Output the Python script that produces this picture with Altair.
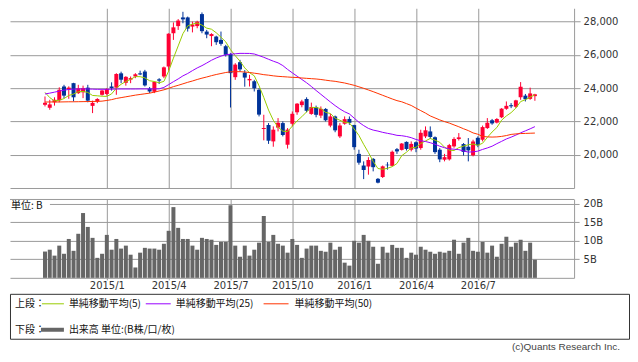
import altair as alt
import pandas as pd

# ---------------- data (weekly) ----------------
weeks = [d.strftime("%Y-%m-%d") for d in pd.date_range("2014-10-06", periods=104, freq="7D")]

opens = [23000, 22820, 23150, 23270, 24100, 23930, 24300, 23700, 23750, 24030,
         22935, 23200, 23600, 23650, 24100, 24030, 24890, 24320, 24510, 24700,
         24890, 25000, 23970, 23780, 24530, 24700, 25300, 27300, 27730, 28250,
         28250, 27700, 27730, 28450, 27400, 27130, 27100, 26900, 26520, 26050,
         24660, 25560, 24930, 24470, 24415, 23900, 21550, 21785, 20800, 21630,
         21900, 20600, 21860, 22550, 22980, 23350, 22450, 22850, 22350, 22750,
         21750, 22300, 21100, 21860, 22150, 21780, 20050, 19350, 19290, 19750,
         18550, 18660, 19400, 19330, 20330, 20290, 20770, 20300, 20750, 20400,
         21100, 21400, 21050, 20300, 19700, 19720, 20500, 20940, 20640, 20480,
         19960, 21015, 20900, 21600, 22070, 21930, 22250, 22760, 22975, 22880,
         23454, 23550, 23356, 23520]
highs = [23500, 23300, 23450, 24050, 24200, 24110, 24320, 24200, 24150, 24200,
         23250, 23400, 23900, 24000, 24350, 24900, 24990, 24720, 24700, 24900,
         25050, 25100, 24070, 24400, 24600, 25300, 27300, 27950, 28150, 28588,
         28300, 28000, 28050, 28550, 27500, 27300, 27150, 27400, 26600, 26100,
         25500, 25700, 25085, 24800, 24500, 24000, 22400, 21900, 21700, 22200,
         22000, 21600, 22600, 23100, 23300, 23450, 23130, 22950, 22900, 22800,
         22450, 22350, 21900, 22300, 22300, 21800, 20300, 19600, 19850, 19800,
         18600, 19350, 19550, 20250, 20400, 20700, 20800, 20800, 20800, 21500,
         21700, 21700, 21100, 20400, 20050, 20650, 21050, 21300, 20700, 21000,
         20900, 21100, 21750, 22200, 22150, 22200, 22800, 23200, 23100, 23300,
         24364, 23650, 24030, 23660]
lows = [22900, 22700, 22950, 23150, 23400, 23360, 23200, 23650, 23400, 23150,
        22500, 23100, 23550, 23550, 23850, 23600, 24300, 24150, 24300, 24600,
        24780, 24100, 23700, 23700, 24250, 24600, 25050, 26900, 27500, 27900,
        27400, 27350, 27600, 27300, 27000, 26520, 26600, 26550, 25900, 22836,
        24500, 25000, 24087, 24100, 23800, 22300, 20865, 20650, 20480, 21400,
        21100, 20368, 21700, 22400, 22850, 22550, 22400, 22250, 22200, 22000,
        21650, 21350, 21000, 21800, 21800, 20300, 19400, 18534, 18800, 19000,
        18278, 18600, 19100, 19300, 20050, 20250, 20250, 20200, 20150, 20300,
        21000, 20950, 20050, 19550, 19600, 19650, 20420, 20850, 19950, 19600,
        19900, 20450, 20800, 21550, 21800, 21880, 22200, 22700, 22800, 22800,
        23300, 23200, 23300, 23240]
closes = [23120, 23023, 23302, 23900, 23550, 24030, 23450, 23988, 24000, 23249,
          23116, 23349, 23857, 23950, 24000, 24850, 24507, 24679, 24604, 24832,
          24823, 24164, 23800, 24375, 24450, 25250, 27272, 27653, 28061, 28133,
          27577, 27822, 27993, 27424, 27220, 27250, 26760, 26663, 26000, 24901,
          25415, 25128, 24636, 24552, 23991, 22410, 21612, 20841, 21504, 21920,
          21186, 21507, 22459, 23067, 23200, 22640, 22867, 22397, 22755, 22068,
          22300, 21464, 21756, 22138, 21914, 20454, 19521, 19081, 19683, 19250,
          18320, 19300, 19364, 20176, 20199, 20671, 20345, 20650, 20370, 21316,
          21467, 21067, 20156, 19719, 19852, 20577, 20947, 21042, 20169, 20259,
          20794, 20564, 21660, 21920, 21880, 22146, 22767, 22937, 22910, 23266,
          24087, 23335, 23683, 23630]
volume_b = [7.1, 7.6, 6.0, 8.7, 6.5, 10.5, 7.3, 11.9, 17.5, 13.75,
            10.8, 5.4, 6.5, 11.6, 7.6, 10.5, 7.9, 8.7, 6.25, 2.8,
            6.8, 8.1, 7.9, 7.9, 7.6, 9.2, 12.7, 19.1, 13.5, 10.5,
            10.5, 8.7, 7.6, 10.8, 10.5, 10.3, 8.9, 9.7, 9.7, 19.6,
            8.7, 5.7, 8.7, 6.0, 7.6, 9.5, 16.7, 9.7, 11.6, 9.2,
            8.7, 6.8, 10.5, 8.9, 5.4, 7.9, 8.7, 8.7, 7.3, 7.05,
            9.5, 7.6, 8.4, 4.1, 3.3, 10.0, 9.5, 11.6, 10.0, 8.4,
            3.8, 8.4, 6.8, 8.9, 8.1, 8.1, 5.4, 6.8, 6.25, 8.4,
            7.6, 7.05, 6.5, 7.05, 6.8, 7.3, 10.3, 6.5, 9.5, 10.8,
            7.3, 7.05, 9.7, 6.8, 8.7, 5.7, 9.2, 11.1, 8.4, 9.5,
            10.3, 7.3, 9.5, 4.9]
ma5 = [23746, 23432, 23231, 23275, 23373, 23561, 23646, 23784, 23804, 23743,
       23561, 23540, 23514, 23504, 23654, 24001, 24233, 24397, 24528, 24694,
       24689, 24620, 24445, 24399, 24322, 24408, 25029, 25800, 26537, 27274,
       27739, 27849, 27917, 27790, 27607, 27542, 27329, 27063, 26779, 26315,
       25948, 25621, 25216, 24926, 24744, 24143, 23440, 22681, 22072, 21657,
       21413, 21392, 21715, 22028, 22284, 22575, 22847, 22834, 22772, 22545,
       22477, 22197, 22069, 21945, 21914, 21545, 21157, 20622, 20131, 19598,
       19171, 19127, 19183, 19282, 19472, 19942, 20151, 20408, 20447, 20670,
       20830, 20974, 20875, 20745, 20452, 20274, 20250, 20427, 20517, 20599,
       20642, 20566, 20689, 21039, 21364, 21634, 22075, 22330, 22528, 22805,
       23193, 23307, 23456, 23600]
ma25 = [23650, 23700, 23760, 23820, 23880, 23920, 23940, 23950, 23950, 23950,
        23940, 23930, 23930, 23930, 23940, 23950, 23950, 23950, 23950, 23950,
        23955, 23955, 23950, 23955, 23959, 24044, 24214, 24388, 24554, 24738,
        24880, 25054, 25215, 25352, 25510, 25676, 25812, 25924, 26006, 26043,
        26065, 26090, 26088, 26086, 26053, 25956, 25854, 25736, 25621, 25520,
        25357, 25126, 24919, 24719, 24522, 24324, 24100, 23860, 23630, 23400,
        23170, 22950, 22750, 22580, 22450, 22200, 21950, 21750, 21580, 21480,
        21420, 21344, 21285, 21231, 21163, 21142, 21096, 21023, 20915, 20840,
        20793, 20721, 20631, 20510, 20421, 20352, 20332, 20303, 20224, 20158,
        20172, 20214, 20317, 20406, 20511, 20664, 20803, 20946, 21055, 21178,
        21315, 21434, 21556, 21686]
ma50 = [23165, 23170, 23170, 23170, 23175, 23180, 23180, 23185, 23190, 23195,
        23200, 23205, 23220, 23260, 23310, 23380, 23430, 23480, 23530, 23580,
        23620, 23660, 23700, 23760, 23830, 23900, 23990, 24090, 24170, 24260,
        24350, 24430, 24520, 24600, 24670, 24750, 24820, 24880, 24940, 24980,
        24990, 24990, 24970, 24940, 24900, 24860, 24810, 24780, 24740, 24710,
        24690, 24670, 24650, 24640, 24610, 24590, 24570, 24550, 24520, 24480,
        24440, 24410, 24360, 24310, 24240, 24170, 24080, 23990, 23890, 23790,
        23680, 23570, 23460, 23350, 23250, 23180, 23070, 22960, 22800, 22650,
        22500, 22330, 22210, 22090, 21990, 21900, 21790, 21680, 21560, 21450,
        21310, 21230, 21100, 21070, 21060, 21070, 21100, 21150, 21220, 21250,
        21270, 21280, 21290, 21300]

quarter_ticks = [(2015, 1, 5), (2015, 4, 6), (2015, 7, 6), (2015, 10, 5),
                 (2016, 1, 4), (2016, 4, 4), (2016, 7, 4)]
price_ticks = [20000, 22000, 24000, 26000, 28000]
volume_ticks = [5, 10, 15, 20]
ma_names = ["MA5", "MA25", "MA50"]
legend_upper = ["単純移動平均(5)", "単純移動平均(25)", "単純移動平均(50)"]
legend_lower = "出来高 単位:(B株/口/枚)"
unit_label = "単位: B"
copyright_text = "(c)Quants Research Inc."

# ---------------- styles ----------------
RED = "#ff0033"
BLUE = "#003399"
GREEN = "#99cc00"
PURPLE = "#9900ff"
ORANGE = "#ff3300"
VOL = "#666666"
GRID = "#9a9a9a"
CJK = "Noto Sans CJK JP"
W = 565

candles = pd.DataFrame({"date": weeks, "open": opens, "high": highs, "low": lows,
                        "close": closes, "volume": volume_b})
candles["dir"] = ["up" if c > o else "down" for o, c in zip(opens, closes)]
ma = pd.DataFrame({"date": weeks * 3, "value": ma5 + ma25 + ma50,
                   "series": [ma_names[0]] * 104 + [ma_names[1]] * 104 + [ma_names[2]] * 104})

xscale = alt.Scale(type="utc", domain=[
    alt.DateTime(year=2014, month=8, date=22, hours=20, utc=True),
    alt.DateTime(year=2016, month=11, date=15, hours=8, utc=True)])
tick_vals = [alt.DateTime(year=y, month=m, date=d, utc=True) for y, m, d in quarter_ticks]

x_price_axis = alt.Axis(values=tick_vals, labels=False, ticks=False, domain=True,
                        domainColor=GRID, grid=True, gridColor=GRID, title=None)
yscale = alt.Scale(domain=[18000, 28800], nice=False, zero=False)
y_price_axis = alt.Axis(orient="right", values=price_ticks, format=",d", grid=True,
                        gridColor=GRID, domainColor=GRID, tickColor=GRID, tickSize=6,
                        labelPadding=3, title=None)
dir_color = alt.Color("dir:N", scale=alt.Scale(domain=["up", "down"], range=[RED, BLUE]), legend=None)

wick = alt.Chart(candles).mark_rule(strokeWidth=1).encode(
    x=alt.X("date:T", scale=xscale, axis=x_price_axis),
    y=alt.Y("low:Q", scale=yscale, axis=y_price_axis),
    y2="high:Q",
    color=dir_color)
body = alt.Chart(candles).mark_bar(size=4).encode(
    x=alt.X("date:T", scale=xscale, axis=x_price_axis),
    y=alt.Y("open:Q", scale=yscale, axis=y_price_axis),
    y2="close:Q",
    color=dir_color)
lines = alt.Chart(ma).mark_line(strokeWidth=1).encode(
    x=alt.X("date:T", scale=xscale, axis=x_price_axis),
    y=alt.Y("value:Q", scale=yscale, axis=y_price_axis),
    color=alt.Color("series:N", scale=alt.Scale(domain=ma_names, range=[GREEN, PURPLE, ORANGE]), legend=None))

price = alt.layer(wick, body, lines).resolve_scale(color="independent").properties(width=W, height=180)

vol_x_axis = alt.Axis(values=tick_vals, labelExpr="utcFormat(datum.value, '%Y/%-m')",
                      grid=True, gridColor=GRID, domainColor=GRID, tickColor=GRID,
                      tickSize=2, labelPadding=1, labelFlush=False, title=None)
vol_y_axis = alt.Axis(orient="right", values=volume_ticks, labelExpr="datum.value + 'B'",
                      grid=True, gridColor=GRID, domainColor=GRID, tickColor=GRID,
                      tickSize=5, labelPadding=4, title=None)
vol_bars = alt.Chart(candles).mark_bar(size=4, color=VOL).encode(
    x=alt.X("date:T", scale=xscale, axis=vol_x_axis),
    y=alt.Y("volume:Q", scale=alt.Scale(domain=[0, 21.3], nice=False), axis=vol_y_axis))
top_rule = alt.Chart().mark_rule(color=GRID, strokeWidth=1).encode(
    x=alt.value(0), x2=alt.value(W), y=alt.value(0.5))
unit_bg = alt.Chart().mark_rect(color="white").encode(
    x=alt.value(0), x2=alt.value(40), y=alt.value(1.5), y2=alt.value(12))
unit_txt = alt.Chart().mark_text(text=unit_label, align="left", baseline="middle", font=CJK,
                                 fontSize=10, color="#111").encode(x=alt.value(1), y=alt.value(7))
volume = alt.layer(vol_bars, top_rule, unit_bg, unit_txt).properties(width=W, height=79)


def ltext(t, x, y, align="left", font=CJK, color="#111"):
    return alt.Chart().mark_text(text=t, align=align, baseline="middle", font=font,
                                 fontSize=10, color=color).encode(x=alt.value(x), y=alt.value(y))


def lrule(c, x1, x2, y, w=1.0):
    return alt.Chart().mark_rule(color=c, strokeWidth=w).encode(
        x=alt.value(x1), x2=alt.value(x2), y=alt.value(y))


legend = alt.layer(
    ltext("上段：", 5, 10), lrule(GREEN, 32, 54, 10), ltext(legend_upper[0], 59, 10),
    lrule(PURPLE, 136, 161, 10), ltext(legend_upper[1], 166, 10),
    lrule(ORANGE, 254, 279, 10), ltext(legend_upper[2], 285, 10),
    ltext("下段：", 5, 36), lrule(VOL, 31, 54, 36, 4), ltext(legend_lower, 59, 36),
    ltext(copyright_text, 611, 53, align="right", font="Liberation Sans", color="#444"),
).properties(width=620, height=45, view=alt.ViewBackground(stroke="#333333", strokeWidth=1))

chart = alt.vconcat(
    alt.vconcat(price, volume, spacing=10),
    legend, spacing=2,
).properties(
    padding={"left": 1, "top": 0, "right": 0, "bottom": 0}
).configure_view(
    strokeWidth=0
).configure_axis(
    labelFont="DejaVu Sans", labelFontSize=10, labelColor="#333333"
)

chart.save("out.html", embed_options={"renderer": "svg", "actions": False})
